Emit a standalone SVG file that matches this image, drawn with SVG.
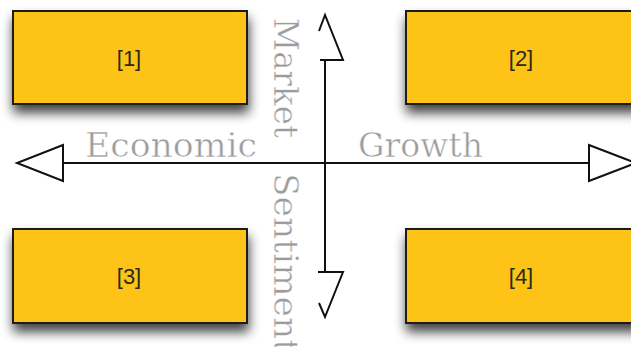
<svg xmlns="http://www.w3.org/2000/svg" width="631" height="347" viewBox="0 0 631 347">
<style>
.box{fill:#FDC313;stroke:#1e1e1e;stroke-width:2;filter:url(#sh)}
.lbl{font-family:"Liberation Sans",Arial,sans-serif;font-size:22px;fill:#2a2a1a;text-anchor:middle}
.ax{font-family:"DejaVu Serif","Liberation Serif",serif;font-size:33px;fill:#9c9c9c;stroke:#fff;stroke-width:0.5}
.line{stroke:#111;stroke-width:2;fill:none}
.head{stroke:#111;stroke-width:2;fill:#fff;stroke-linejoin:miter}
</style>
<defs>
<filter id="sh" x="-10%" y="-20%" width="120%" height="170%">
<feGaussianBlur in="SourceAlpha" stdDeviation="6"/>
<feOffset dx="1" dy="8" result="b"/>
<feComponentTransfer><feFuncA type="linear" slope="0.75"/></feComponentTransfer>
<feMerge><feMergeNode/><feMergeNode in="SourceGraphic"/></feMerge>
</filter>
</defs>
<rect width="631" height="347" fill="#fff"/>
<g id="node1"><rect class="box" x="13" y="11" width="234" height="93"/><text class="lbl" x="129" y="66">[1]</text></g>
<g id="node2"><rect class="box" x="406" y="11" width="234" height="93"/><text class="lbl" x="521" y="66">[2]</text></g>
<g id="node3"><rect class="box" x="13" y="229" width="234" height="94"/><text class="lbl" x="129" y="284">[3]</text></g>
<g id="node4"><rect class="box" x="406" y="229" width="234" height="94"/><text class="lbl" x="521" y="284">[4]</text></g>
<g id="connectors">
<line class="line" x1="63" y1="163" x2="589" y2="163"/>
<line class="line" x1="325" y1="60" x2="325" y2="272"/>
<path class="head" d="M63,145 L17,163 L63,181 Z"/>
<path class="head" d="M589,145 L636,163 L589,181 Z"/>
<path class="head" d="M319,31 L325,15 L343,60 L320,60" fill="none"/>
<path class="head" d="M318,272 L343,272 L325,317 L319,303" fill="none"/>
</g>
<g id="labels">
<text class="ax" x="85" y="157" textLength="172" lengthAdjust="spacingAndGlyphs">Economic</text>
<text class="ax" x="358" y="157" textLength="125" lengthAdjust="spacingAndGlyphs">Growth</text>
<text class="ax" transform="translate(274,18) rotate(90)" textLength="120" lengthAdjust="spacingAndGlyphs">Market</text>
<text class="ax" transform="translate(274,173) rotate(90)" textLength="180" lengthAdjust="spacingAndGlyphs">Sentiment</text>
</g>
</svg>
